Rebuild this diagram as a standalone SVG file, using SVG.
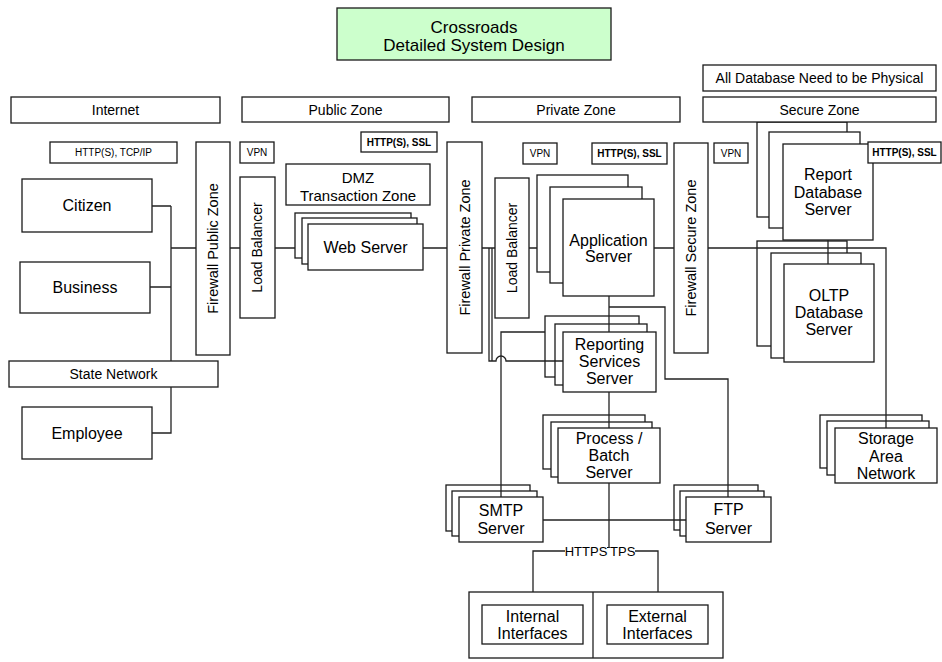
<svg xmlns="http://www.w3.org/2000/svg" width="942" height="662" viewBox="0 0 942 662">
<style>
.b{fill:#fff;stroke:#1a1a1a;stroke-width:1.3}
.c{fill:none;stroke:#222;stroke-width:1.3}
.t{font-family:"Liberation Sans",Arial,sans-serif;fill:#000;text-anchor:middle;font-size:16px}
.z{font-size:14px}
.s{font-size:10px}
.sb{font-size:10px;font-weight:bold}
</style>
<rect width="942" height="662" fill="#fff"/>
<g id="title"><rect x="337" y="8" width="274" height="52" fill="#ccffcc" stroke="#1a1a1a" stroke-width="1.3"/><text class="t" x="474" y="33" style="font-size:17px">Crossroads</text><text class="t" x="474" y="51" style="font-size:17px">Detailed System Design</text></g>
<g id="allDb"><rect class="b" x="703" y="65" width="233" height="26"/><text class="t z" x="819.5" y="83">All Database Need to be Physical</text></g>
<g id="internet"><rect class="b" x="11" y="97" width="209" height="26"/><text class="t z" x="115.5" y="115">Internet</text></g>
<g id="publicZone"><rect class="b" x="242" y="97" width="207" height="25"/><text class="t z" x="345.5" y="114.5">Public Zone</text></g>
<g id="privateZone"><rect class="b" x="472" y="97" width="208" height="25"/><text class="t z" x="576" y="114.5">Private Zone</text></g>
<g id="reportDb"><rect class="b" x="757" y="122" width="90" height="95"/><rect class="b" x="769" y="132" width="91" height="96"/><rect class="b" x="783" y="144" width="90" height="96"/><text class="t" x="828" y="179.5">Report</text><text class="t" x="828" y="197.5">Database</text><text class="t" x="828" y="214.5">Server</text></g>
<g id="secureZone"><rect class="b" x="703" y="97" width="233" height="25"/><text class="t z" x="819.5" y="114.5">Secure Zone</text></g>
<g id="protoInternet"><rect class="b" x="50" y="142" width="127" height="21"/><text class="t s" x="113.5" y="156">HTTP(S), TCP/IP</text></g>
<g id="vpn1"><rect class="b" x="240" y="142" width="34" height="21"/><text class="t s" x="257" y="156">VPN</text></g>
<g id="ssl1"><rect class="b" x="361" y="132" width="76" height="20"/><text class="t sb" x="399" y="145.5">HTTP(S), SSL</text></g>
<g id="vpn2"><rect class="b" x="523" y="143" width="34" height="21"/><text class="t s" x="540" y="157">VPN</text></g>
<g id="ssl2"><rect class="b" x="592" y="143" width="75" height="21"/><text class="t sb" x="629.5" y="157">HTTP(S), SSL</text></g>
<g id="vpn3"><rect class="b" x="714" y="143" width="34" height="20"/><text class="t s" x="731" y="156.5">VPN</text></g>
<g id="ssl3"><rect class="b" x="868" y="142" width="73" height="21"/><text class="t sb" x="904.5" y="156">HTTP(S), SSL</text></g>
<g id="citizen"><rect class="b" x="22" y="179" width="130" height="53"/><text class="t" x="87" y="211">Citizen</text></g>
<g id="business"><rect class="b" x="20" y="262" width="130" height="51"/><text class="t" x="85" y="293">Business</text></g>
<g id="stateNetwork"><rect class="b" x="9" y="361" width="209" height="26"/><text class="t z" x="113.5" y="379">State Network</text></g>
<g id="employee"><rect class="b" x="22" y="407" width="130" height="52"/><text class="t" x="87" y="439">Employee</text></g>
<g id="fwPublic"><rect class="b" x="196" y="142" width="34" height="213"/><text class="t" style="font-size:14.5px" transform="translate(218,248.5) rotate(-90)">Firewall Public Zone</text></g>
<g id="lb1"><rect class="b" x="240" y="177" width="35" height="141"/><text class="t z" transform="translate(262,247.5) rotate(-90)">Load Balancer</text></g>
<g id="dmz"><rect class="b" x="286" y="164" width="144" height="41"/><text class="t" style="font-size:15px" x="358" y="182.5">DMZ</text><text class="t" style="font-size:15px" x="358" y="200.5">Transaction Zone</text></g>
<g id="webServer"><rect class="b" x="295" y="213" width="116" height="45"/><rect class="b" x="302" y="218" width="115" height="46"/><rect class="b" x="308" y="224" width="115" height="46"/><text class="t" x="365.5" y="252.5">Web Server</text></g>
<g id="fwPrivate"><rect class="b" x="447" y="142" width="35" height="211"/><text class="t" style="font-size:14.5px" transform="translate(469.5,247.5) rotate(-90)">Firewall Private Zone</text></g>
<g id="lb2"><rect class="b" x="495" y="178" width="34" height="140"/><text class="t z" transform="translate(517,248) rotate(-90)">Load Balancer</text></g>
<g id="appServer"><rect class="b" x="537" y="175" width="91" height="97"/><rect class="b" x="550" y="187" width="92" height="96"/><rect class="b" x="563" y="199" width="91" height="97"/><text class="t" x="608.5" y="245.5">Application</text><text class="t" x="608.5" y="261.5">Server</text></g>
<g id="fwSecure"><rect class="b" x="674" y="143" width="34" height="210"/><text class="t" style="font-size:14.5px" transform="translate(696,248) rotate(-90)">Firewall Secure Zone</text></g>
<g id="oltpDb"><rect class="b" x="757" y="241" width="90" height="105"/><rect class="b" x="771" y="253" width="90" height="105"/><rect class="b" x="784" y="264" width="90" height="98"/><text class="t" x="829" y="301">OLTP</text><text class="t" x="829" y="318">Database</text><text class="t" x="829" y="335">Server</text></g>
<g id="reporting"><rect class="b" x="545" y="316" width="94" height="61"/><rect class="b" x="555" y="324" width="92" height="61"/><rect class="b" x="563" y="332" width="93" height="60"/><text class="t" x="609.5" y="349.5">Reporting</text><text class="t" x="609.5" y="366.5">Services</text><text class="t" x="609.5" y="383.5">Server</text></g>
<g id="process"><rect class="b" x="543" y="415" width="102" height="54"/><rect class="b" x="551" y="422" width="101" height="55"/><rect class="b" x="558" y="428" width="102" height="55"/><text class="t" x="609" y="443.5">Process /</text><text class="t" x="609" y="460.5">Batch</text><text class="t" x="609" y="477.5">Server</text></g>
<g id="storage"><rect class="b" x="820" y="415" width="102" height="53"/><rect class="b" x="827" y="421" width="102" height="54"/><rect class="b" x="835" y="428" width="102" height="55"/><text class="t" x="886" y="443.5">Storage</text><text class="t" x="886" y="461.5">Area</text><text class="t" x="886" y="478.5">Network</text></g>
<g id="smtp"><rect class="b" x="446" y="485" width="84" height="46"/><rect class="b" x="452" y="491" width="85" height="45"/><rect class="b" x="459" y="497" width="84" height="45"/><text class="t" x="501" y="515.5">SMTP</text><text class="t" x="501" y="533.5">Server</text></g>
<g id="ftp"><rect class="b" x="674" y="485" width="84" height="45"/><rect class="b" x="680" y="491" width="84" height="45"/><rect class="b" x="686" y="497" width="85" height="45"/><text class="t" x="728.5" y="515">FTP</text><text class="t" x="728.5" y="533.5">Server</text></g>
<g id="interfaces"><rect class="b" x="469" y="592" width="254" height="66"/><line class="c" x1="593" y1="592" x2="593" y2="658"/><rect class="b" x="482" y="605" width="101" height="39"/><rect class="b" x="607" y="605" width="101" height="39"/><text class="t" x="532.5" y="621.5">Internal</text><text class="t" x="532.5" y="638.5">Interfaces</text><text class="t" x="657.5" y="621.5">External</text><text class="t" x="657.5" y="638.5">Interfaces</text></g>
<g id="connectors">
<path class="c" d="M152,206H171M150,287H171M171,206V361M171,387V433H152M171,248H196"/>
<path class="c" d="M230,248H240M275,248H295M423,248H447M482,248H495M529,248H537M654,248H674M708,248H886V428"/>
<path class="c" d="M489,248V361H496A5,5 0 0 1 506,361H563M492,248V361"/>
<path class="c" d="M545,332H501V497"/>
<path class="c" d="M609,296V332M609,392V428M609,307H665V379H728V497"/>
<path class="c" d="M828,240V264"/>
<path class="c" d="M543,520H686"/>
<path class="c" d="M533,592V551H658V592"/>
<rect x="593" y="546" width="42" height="12" fill="#fff"/>
<text class="t" style="font-size:13px" x="614" y="555.5">HTTPS</text>
<rect x="565" y="546" width="42" height="12" fill="#fff"/>
<text class="t" style="font-size:13px" x="586" y="555.5">HTTPS</text>
<path class="c" d="M609,483V548"/>
</g>
</svg>
